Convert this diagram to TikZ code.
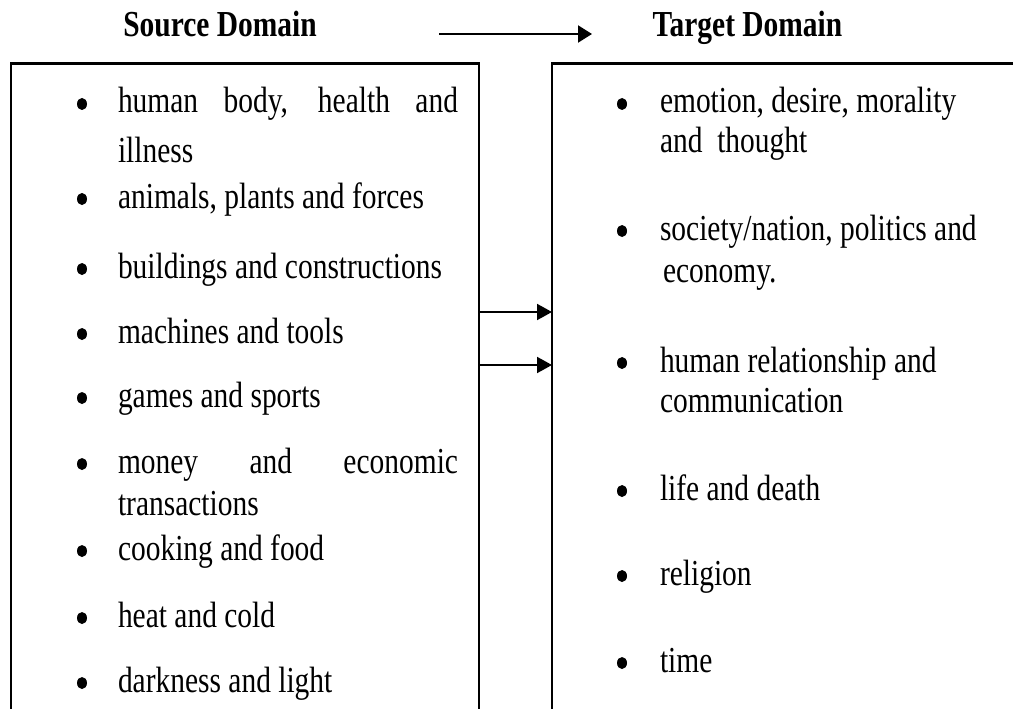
\documentclass[tikz,border=0pt]{standalone}
\usepackage{fontspec}
\setmainfont{Liberation Serif}[FakeStretch=0.805]
\usetikzlibrary{arrows.meta}

\tikzset{
  item/.style={anchor=base west, inner sep=0pt, outer sep=0pt,
    font=\fontsize{36.6}{40}\selectfont},
  head/.style={anchor=base, inner sep=0pt, outer sep=0pt,
    font=\fontsize{36.6}{40}\selectfont\bfseries},
  frame/.style={line width=2pt, line cap=rect},
  topline/.style={line width=3pt},
  link/.style={line width=2pt, -{Triangle[length=15pt,width=16pt]}}
}
% list marker: a filled dot sitting on the text line whose baseline is #2
\newcommand{\listdot}[2]{\fill (#1,#2-9) ellipse [x radius=5, y radius=6];}

\begin{document}
\begin{tikzpicture}[x=1pt, y=-1pt]
  \useasboundingbox (0,0) rectangle (1013,709);

  % column headings and the mapping arrow between them
  \node[head] (src) at (220,37) {Source Domain};
  \node[head] (tgt) at (747.5,37) {Target Domain};
  \coordinate (ha) at (439,34);
  \coordinate (hb) at (592,34);
  \draw[link, -{Triangle[length=14pt,width=17pt]}] (ha) -- (hb);

  % the two open-bottomed frames
  \coordinate (L1) at (11,720);  \coordinate (L2) at (11,63.5);
  \coordinate (L3) at (479,63.5); \coordinate (L4) at (479,720);
  \coordinate (R1) at (552,720); \coordinate (R2) at (552,63.5);
  \coordinate (R3) at (1020,63.5);
  \draw[frame] (L1) -- (L2);
  \draw[frame] (L3) -- (L4);
  \draw[topline] (L2) -- (L3);
  \draw[frame] (R1) -- (R2);
  \draw[topline] (R2) -- (R3);

  % connectors from the source frame to the target frame
  \coordinate (a1s) at (479,312); \coordinate (a1t) at (552,312);
  \coordinate (a2s) at (479,365); \coordinate (a2t) at (552,365);
  \draw[link] (a1s) -- (a1t);
  \draw[link] (a2s) -- (a2t);

  % source domain items
  \foreach \y in {113,208,278,343,407,473,560,627,692} {\listdot{82}{\y}}
  \node[item] (s1) at (118,113) {\makebox[340pt][s]{human body, health and}};
  \node[item] (s1b) at (118,162) {illness};
  \node[item] (s2) at (118,208) {animals, plants and forces};
  \node[item] (s3) at (118,278) {buildings and constructions};
  \node[item] (s4) at (118,343) {machines and tools};
  \node[item] (s5) at (118,407) {games and sports};
  \node[item] (s6) at (118,473) {\makebox[340pt][s]{money and economic}};
  \node[item] (s6b) at (118,515) {transactions};
  \node[item] (s7) at (118,560) {cooking and food};
  \node[item] (s8) at (118,627) {heat and cold};
  \node[item] (s9) at (118,692) {darkness and light};

  % target domain items
  \foreach \y in {113,240,372,500,585,672} {\listdot{622}{\y}}
  \node[item] (t1) at (660,113) {emotion, desire, morality};
  \node[item] (t1b) at (660,152) {and\ \ thought};
  \node[item] (t2) at (660,240) {society/nation, politics and};
  \node[item] (t2b) at (663,282) {economy.};
  \node[item] (t3) at (660,372) {human relationship and};
  \node[item] (t3b) at (660,412) {communication};
  \node[item] (t4) at (660,500) {life and death};
  \node[item] (t5) at (660,585) {religion};
  \node[item] (t6) at (660,672) {time};
\end{tikzpicture}
\end{document}
